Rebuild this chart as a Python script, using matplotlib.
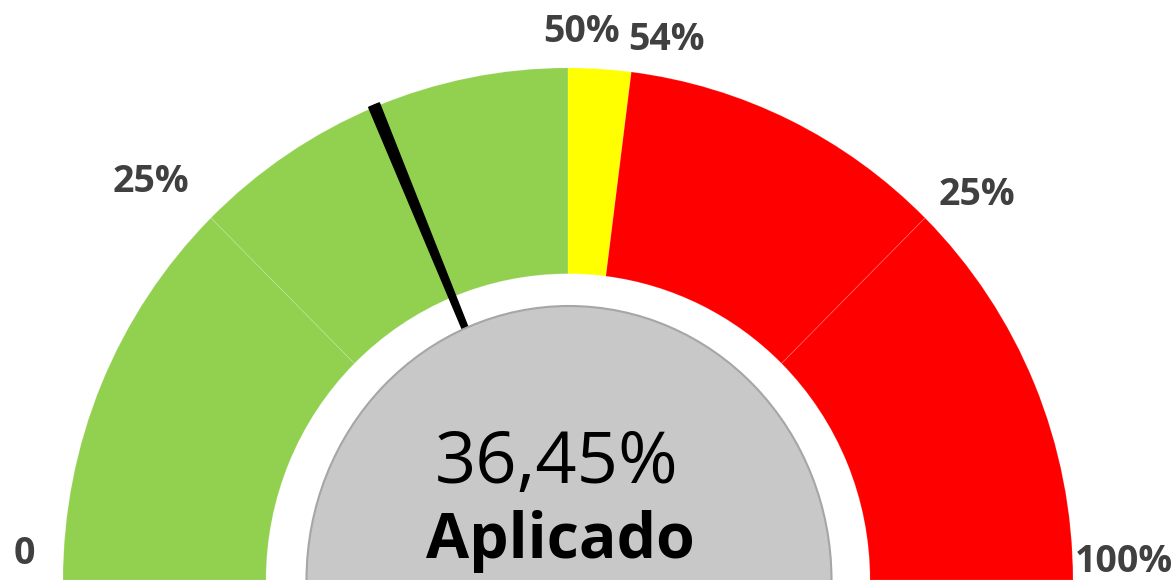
import numpy as np
import matplotlib
matplotlib.use("Agg")
import matplotlib.pyplot as plt
from matplotlib.patches import Wedge, Ellipse

plt.rcParams['font.family'] = ['Open Sans', 'DejaVu Sans']

# Tramos del indicador (en % del semicirculo)
tramos = [25, 25, 4, 21, 25]
colores = ['#92D050', '#92D050', '#FFFF00', '#FF0000', '#FF0000']
limites = [0, 25, 50, 54, 75, 100]
etiquetas = ['0', '25%', '50%', '54%', '25%', '100%']

# Aguja y texto central
aguja = 37.5
valor_txt = '36,45%'
subtitulo = 'Aplicado'

# Geometria (pixeles)
CX = 568
YS = 1.014          # ligero estiramiento vertical
R_EXT = 505
ANCHO = 203

fig = plt.figure(figsize=(11.75, 5.8), dpi=100)
ax = fig.add_axes([0, 0, 1, 1])

wedges, _ = ax.pie(tramos + [sum(tramos)], colors=colores + ['none'],
                   startangle=180, counterclock=False, radius=R_EXT,
                   center=(CX, 0),
                   wedgeprops=dict(width=ANCHO, edgecolor=(1, 1, 1, 0.15), linewidth=0.7))
wedges[-1].set_edgecolor('none')

# Aguja
ang = 180 - aguja * 1.8
ax.add_patch(Wedge((CX, 0), 507, ang - 0.65, ang + 0.65, color='black', zorder=3))

# Circulo gris central
ax.add_patch(Ellipse((569, 0), 525, 2 * 274 / YS, facecolor='#C8C8C8',
                     edgecolor='#A6A6A6', linewidth=1.5, zorder=4))

ax.text(557, (580 - 483) / YS, valor_txt, ha='center', va='baseline',
        fontsize=52, color='black', zorder=5)
ax.text(560, (580 - 558) / YS, subtitulo, ha='center', va='baseline',
        fontsize=45, fontweight='bold', color='black', zorder=5)

# Etiquetas de los limites
ajuste = [-1.7, 2.1, -1.4, -3.3, -2.5, 0.8]
radio = [544, 570, 538, 539, 555, 556]
for b, lab, da, r in zip(limites, etiquetas, ajuste, radio):
    a = np.radians(180 - b * 1.8 + da)
    ax.text(CX + r * np.cos(a), r * np.sin(a) / YS, lab, ha='center', va='baseline',
            fontsize=27, fontweight='bold', color='#404040')

ax.set_aspect('auto')
ax.set_xlim(0, 1175)
ax.set_ylim(0, 580 / YS)
ax.axis('off')

fig.savefig('out.png', dpi=100)
